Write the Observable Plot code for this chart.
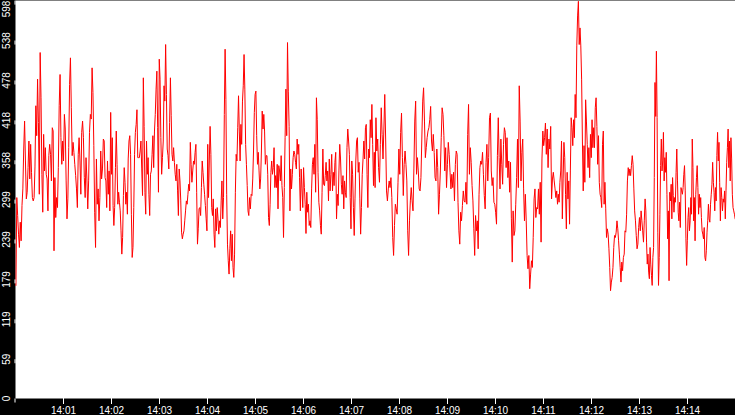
<!DOCTYPE html>
<html><head><meta charset="utf-8">
<script src="https://cdn.jsdelivr.net/npm/d3@7"></script>
<script src="https://cdn.jsdelivr.net/npm/@observablehq/plot@0.6"></script>
<style>html,body{margin:0;padding:0;background:#000;overflow:hidden}</style>
</head><body><div id="chart"></div>
<script>
// values, one block per 1/8 of the 14:00–14:15 window
const chunk0 = [170,302,275,247,227,265,237,290,315,375,417,357,300,310,347,387,330,382,340,302,297,302,348,440,395,480,415,307,520,452,337,280,397,342,377,337,330,282,365,382,367,327,407,402,222,332,272,302,287,347,440,487,392,352,387,357,427,405,327,270,300,377,472,512,437,365,385,370,352,335,315,287,367,392,357,307,400,417,392,332,302,362,330,285,327,400,427,420,497,460,380,280,227,360,292,315,267,302,372,330,345,390,387,332];
const chunk1 = [327,287,357,307,342,282,430,337,392,290,260,287,347,402,352,292,310,295,282,252,217,242,305,347,325,292,310,277,360,387,395,367,277,212,227,287,367,400,412,434,362,362,362,372,387,345,305,482,409,310,277,387,337,362,307,275,337,342,367,395,347,402,427,465,492,407,310,510,480,392,337,362,387,470,447,532,457,375,365,345,415,482,425,367,357,377,355,337,327,352,312,275,345,327,297,250,240,247,252,267,282,297,292,307,322,312,385,352,325,342,357,352,370];
const chunk2 = [382,310,232,255,285,287,275,317,357,340,322,307,290,270,252,382,302,357,409,367,287,275,300,247,227,285,252,287,270,247,267,257,297,327,270,302,427,525,449,307,232,207,187,225,252,207,247,197,182,217,310,367,357,407,455,402,357,412,382,447,470,517,465,382,352,320,282,275,302,285,307,305,330,372,430,457,462,395,352,370,342,315,330,372,432,405,427,402,352,365,365,337,272,260,292,340,357,337,347,377,317,335,317,352,285,350,342,327,365,320,302,242,317,392];
const chunk3 = [465,395,535,462,409,282,345,315,337,362,372,367,355,345,390,367,382,332,282,345,315,287,347,317,292,248,310,280,292,260,267,257,315,352,362,337,382,310,452,419,340,295,282,260,247,310,375,322,320,335,355,327,342,297,360,312,337,367,312,340,320,355,370,270,307,290,342,382,360,322,307,335,285,327,310,302,377,405,387,367,302,255,357,337,287,245,300,357,387,392,340,355,300,247,287,337,360,387,360,407,412,337,287,375,362,419,392,442,382,320,370,317];
const chunk4 = [422,372,390,347,325,382,437,397,360,405,457,390,312,297,315,327,317,332,302,242,215,260,292,285,277,325,375,337,400,429,362,305,352,372,352,327,252,215,267,297,317,297,282,345,417,447,337,362,342,315,312,332,390,447,467,417,362,377,392,402,407,419,439,387,372,397,370,332,327,375,347,277,307,342,392,437,427,395,342,377,317,352,385,367,340,315,337,317,340,297,352,372,367,295,252,232,280,267,290,312,297,295];
const chunk5 = [325,292,397,442,337,377,355,320,297,255,215,275,252,267,225,307,347,357,352,370,337,305,285,355,382,327,362,422,429,342,320,332,295,292,280,262,365,422,362,315,390,352,322,382,407,400,347,392,332,357,310,355,270,205,282,245,252,292,332,390,317,470,417,327,370,390,315,267,307,267,215,195,215,165,187,207,197,242,300,315,272,287,285,315,277,325,235,360,402,380,392,414,367,405,347,390,375,409,300,330,340,327,315];
const chunk6 = [302,312,292,307,295,325,342,387,270,330,385,362,307,255,340,300,327,262,342,422,407,380,419,392,457,422,530,575,597,532,557,530,480,387,312,380,325,449,417,382,347,377,332,397,362,419,377,407,377,437,452,409,352,395,325,307,302,287,382,402,292,325,285,242,255,247,225,197,162,175,182,197,227,245,242,250,267,255,237,217,197,175,205,192,212,217,252,250,277,327,347,335,345,335,350,365,352,315,282,267,245,225,232,257,272,252,282,267,252,235,267,300];
const chunk7 = [282,235,202,217,190,180,227,202,185,170,212,227,332,475,424,522,422,250,170,212,277,350,390,342,357,400,327,362,340,370,307,240,282,177,310,297,322,270,332,305,280,302,295,340,375,327,280,267,295,257,317,312,307,317,337,350,312,240,200,237,272,287,252,267,302,277,390,347,267,302,237,307,332,350,317,277,307,287,302,272,252,247,240,257,212,207,222,250,267,292,270,265,292,307,322,355,325,310,282,317,297,365,400,357,385,325,267,317,302,282,300,295,312,270,312,355,377,405,347,387,327,392,360,307,287,282,277,270];

const yTickLabels = ["0","59","119","179","239","299","358","418","478","538","598"];
const xTickLabels = ["14:01","14:02","14:03","14:04","14:05","14:06","14:07","14:08","14:09","14:10","14:11","14:12","14:13","14:14"];
const startLabel = "14:00";
const endLabel = "14:15";
const yMax = 598.2;

const parse = s => { const [h, m] = s.split(":").map(Number); return new Date(2000, 0, 1, h, m, 0); };
const startTime = parse(startLabel), endTime = parse(endLabel);
const chunks = [chunk0, chunk1, chunk2, chunk3, chunk4, chunk5, chunk6, chunk7];
const chunkMs = (endTime - startTime) / chunks.length;
const data = [];
chunks.forEach((c, i) => c.forEach((v, j) => {
  data.push({t: new Date(+startTime + i * chunkMs + (j + 0.5) * chunkMs / c.length), v});
}));
const xTicks = xTickLabels.map(parse);
const yTicks = yTickLabels.map(Number);
const yTop = yTicks[yTicks.length - 1];
const yLower = yTicks.slice(0, -1);
const label = d => yTickLabels[yTicks.indexOf(d)];

const yAxisCommon = {tickFormat: label, tickSize: 4, tickPadding: 5, rotate: -90, lineAnchor: "middle", label: null, stroke: "#fff", fill: "#fff"};

const chart = Plot.plot({
  width: 735, height: 415,
  marginLeft: 15, marginRight: 0, marginTop: 0, marginBottom: 17,
  style: {background: "#000", color: "#fff", fontFamily: "'Liberation Sans', Arial, sans-serif", fontSize: "10px"},
  x: {type: "time", domain: [startTime, endTime]},
  y: {domain: [0, yMax]},
  marks: [
    Plot.frame({fill: "#fff", stroke: "none"}),
    Plot.line(data, {x: "t", y: "v", stroke: "#ff0000", strokeWidth: 1, curve: "linear"}),
    Plot.axisX(xTicks, {tickFormat: d3.timeFormat("%H:%M"), tickSize: 6, tickPadding: 2, label: null, stroke: "#fff", fill: "#fff"}),
    Plot.axisY(yLower, {...yAxisCommon, textAnchor: "middle"}),
    Plot.axisY([yTop], {...yAxisCommon, textAnchor: "end"})
  ]
});
document.getElementById("chart").appendChild(chart);
</script>
</body></html>
